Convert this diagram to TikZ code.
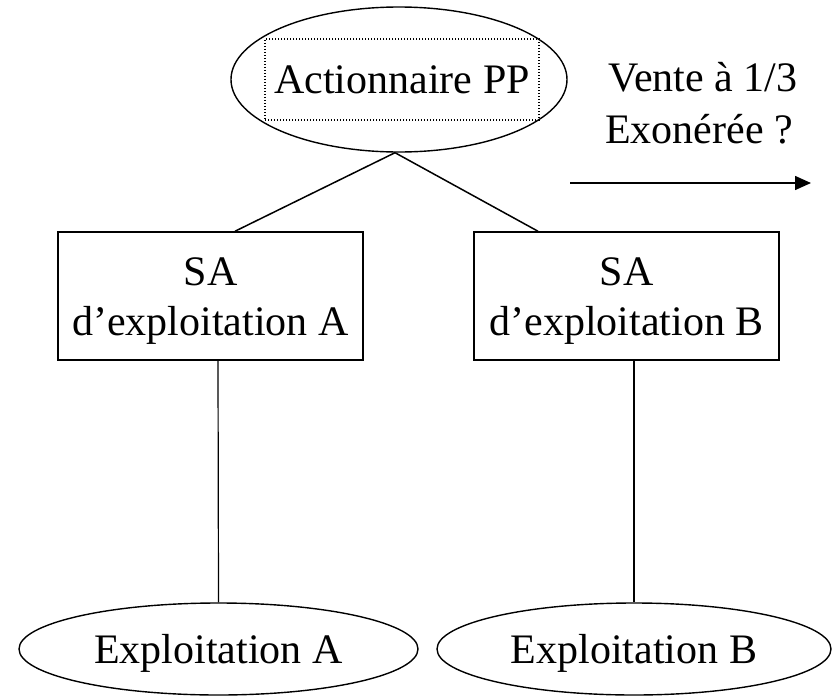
\documentclass[tikz,border=0pt]{standalone}
\usepackage{fontspec}
\setmainfont{Liberation Serif}
\usetikzlibrary{shapes.geometric,arrows.meta}

% invisible strut that lowers the text inside a node
\newcommand{\lowerstrut}{\rule{0pt}{37pt}}

\begin{document}
\begin{tikzpicture}[x=1pt,y=-1pt,
  line width=1.4pt,
  txt/.style={font=\fontsize{42}{50}\selectfont},
  oval/.style={draw,ellipse,inner sep=0pt,txt},
  entity/.style={draw,rectangle,line width=1.5pt,inner sep=0pt,minimum width=305pt,minimum height=128pt,align=center,txt},
  framebox/.style={draw,rectangle,line width=1.1pt,dash pattern=on 1.2pt off 1.8pt,inner sep=0pt,minimum width=274pt,minimum height=81pt,txt},
  link/.style={line width=1.5pt},
  drop/.style={line width=1.2pt},
  flow/.style={line width=1.5pt,-{Triangle[length=16pt,width=14pt]}}]

\useasboundingbox (0,0) rectangle (838,696);

% shareholder at the top
\node[oval,minimum width=336pt,minimum height=145pt] (pp) at (399,79.5) {};
\node[framebox] (ppt) at (402,79.5) {Actionnaire PP};

% operating companies
\node[entity] (sa) at (210.5,296) {\lowerstrut SA\\d’exploitation A};
\node[entity] (sb) at (626.5,296) {\lowerstrut SA\\d’exploitation B};

% businesses
\node[oval,minimum width=399pt,minimum height=92pt] (ea) at (218.5,649) {\makebox[0pt]{\lowerstrut Exploitation A}};
\node[oval,minimum width=394pt,minimum height=92pt] (eb) at (634,649) {\makebox[0pt]{\lowerstrut Exploitation B}};

% sale annotation
\node[txt,anchor=base] (v1) at (703,91) {Vente à 1/3};
\node[txt,anchor=base] (v2) at (699,143) {Exonérée ?};
\coordinate (a1) at (570,183);
\coordinate (a2) at (811,183);
\draw[flow] (a1) -- (a2);

% ownership links
\draw[link] ([xshift=-4pt]pp.south) -- ([xshift=24.5pt]sa.north);
\draw[link] ([xshift=-4pt]pp.south) -- ([xshift=-88.5pt]sb.north);
\draw[drop] ([xshift=7.5pt]sa.south) -- (ea.north);
\draw[drop] ([xshift=7.5pt]sb.south) -- (eb.north);
\end{tikzpicture}
\end{document}
